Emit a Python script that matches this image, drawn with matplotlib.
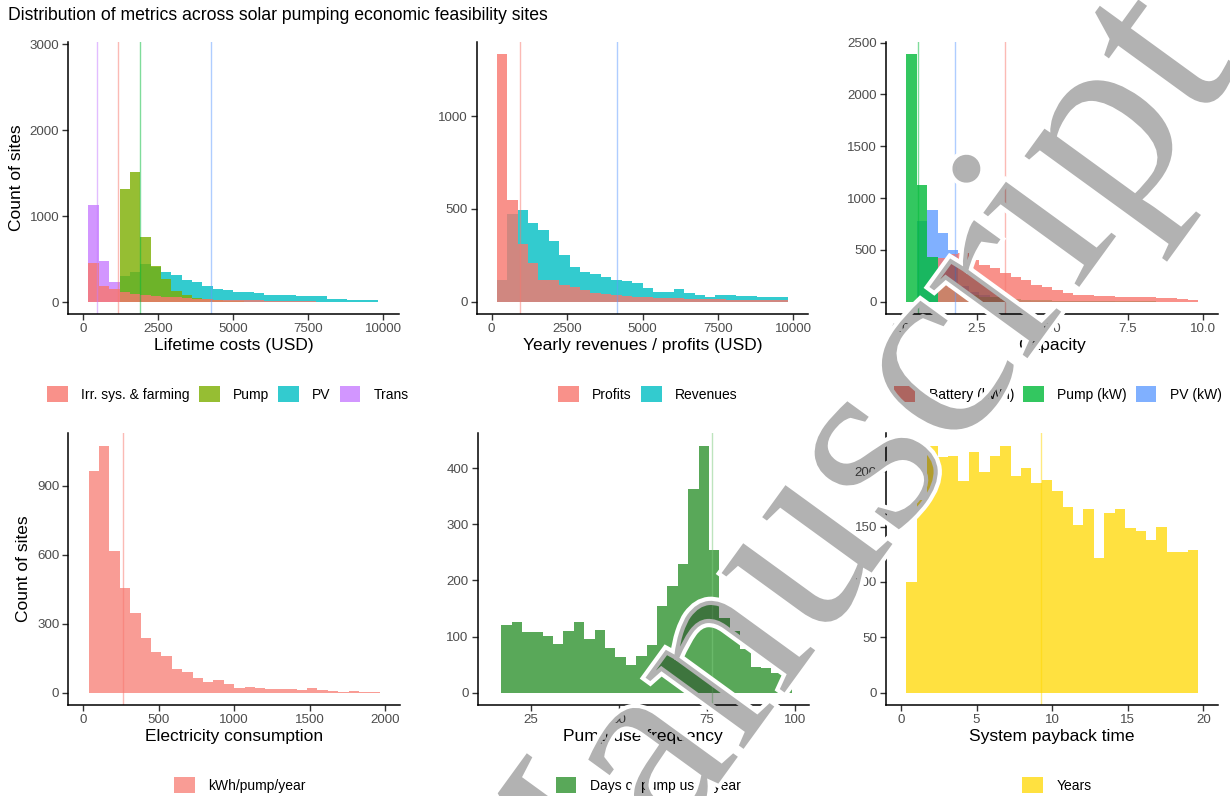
import numpy as np
import matplotlib
matplotlib.use("Agg")
import matplotlib.pyplot as plt
from matplotlib.patches import Patch
import matplotlib.patheffects as pe

plt.rcParams['font.family'] = ['Liberation Sans', 'DejaVu Sans']

# ---------------- data (counts per histogram bin) ----------------
usd_edges = np.linspace(172.4, 9827.6, 29)          # 28 bins, USD
cost_trans = [1128, 475, 240, 130, 60, 30, 15, 8, 5, 3, 2, 1, 1, 0, 0, 0, 0, 0, 0, 0, 0, 0, 0, 0, 0, 0, 0, 0]
cost_pv = [0, 0, 0, 300, 350, 440, 410, 350, 311, 253, 233, 187, 156, 144, 117, 115, 110, 78, 78, 78, 77, 76, 75, 40, 39, 31, 31, 31]
cost_pump = [0, 0, 0, 1311, 1510, 759, 420, 272, 130, 80, 50, 35, 20, 15, 10, 8, 6, 5, 4, 3, 2, 2, 1, 1, 1, 0, 0, 0]
cost_irr = [455, 190, 150, 120, 95, 80, 70, 60, 55, 45, 40, 35, 30, 30, 25, 30, 20, 18, 15, 12, 10, 9, 8, 7, 6, 5, 4, 3]
cost_means = {'Trans': 447, 'Irr': 1167, 'Pump': 1890, 'PV': 4246}

rev_revenues = [114, 475, 493, 426, 384, 327, 253, 186, 162, 150, 132, 114, 110, 102, 76, 54, 54, 67, 45, 36, 24, 36, 36, 31, 31, 27, 27, 27]
rev_profits = [1337, 547, 312, 208, 117, 117, 87, 78, 63, 45, 41, 36, 32, 27, 25, 22, 20, 18, 15, 15, 12, 12, 10, 10, 10, 8, 8, 8]
rev_means = {'Profits': 933, 'Revenues': 4141}

cap_edges = np.linspace(0.1724, 9.8276, 29)
cap_pv = [0, 782, 885, 660, 499, 150, 90, 60, 40, 30, 20, 15, 10, 8, 6, 5, 4, 3, 2, 2, 1, 1, 1, 1, 0, 0, 0, 0]
cap_pump = [2390, 1126, 434, 241, 129, 96, 60, 48, 40, 30, 25, 20, 15, 12, 10, 8, 6, 5, 4, 3, 3, 2, 2, 2, 1, 1, 1, 1]
cap_battery = [0, 0, 0, 418, 460, 473, 402, 354, 322, 273, 241, 209, 161, 145, 113, 80, 64, 64, 58, 55, 48, 48, 42, 40, 32, 32, 29, 20]
cap_means = {'Pump': 0.57, 'PV': 1.79, 'Battery': 3.44}

elec_edges = np.linspace(34.48, 1965.5, 29)
elec_counts = [965, 1074, 617, 457, 345, 239, 178, 160, 104, 90, 62, 48, 55, 36, 22, 26, 22, 17, 17, 15, 12, 19, 12, 7, 4, 7, 4, 3]
elec_mean = 261

freq_edges = np.linspace(16.47, 99.3, 29)
freq_counts = [121, 126, 108, 108, 101, 87, 110, 125, 96, 112, 80, 63, 50, 65, 85, 155, 190, 230, 362, 440, 255, 133, 110, 77, 45, 44, 35, 17]
freq_mean = 76.5

pay_edges = np.linspace(0.3448, 19.655, 29)
pay_counts = [100, 174, 223, 213, 214, 191, 217, 199, 214, 223, 196, 203, 189, 192, 182, 168, 151, 166, 122, 162, 166, 149, 146, 138, 150, 127, 127, 129]
pay_mean = 9.23

# ---------------- styling ----------------
RED, OLIVE, CYAN, PURPLE = '#F8766D', '#7CAE00', '#00BFC4', '#C77CFF'
GREEN3, BLUE3 = '#00BA38', '#619CFF'
FOREST, GOLD = '#228B22', '#FFD700'
A = 0.8

W, H = 1230, 796
fig = plt.figure(figsize=(W / 100, H / 100), dpi=100)


def add_ax(l, t, r, b):
    return fig.add_axes([l / W, 1 - b / H, (r - l) / W, (b - t) / H])


def style(ax, xlim, ylim, xticks, yticks, xlabel, ylabel=None, xfmt=None):
    ax.set_xlim(*xlim)
    ax.set_ylim(*ylim)
    ax.set_xticks(xticks)
    if xfmt:
        ax.set_xticklabels([xfmt.format(v) for v in xticks])
    ax.set_yticks(yticks)
    for s in ['top', 'right']:
        ax.spines[s].set_visible(False)
    for s in ['left', 'bottom']:
        ax.spines[s].set_color('black')
        ax.spines[s].set_linewidth(1.1)
    ax.tick_params(axis='both', colors='#333333', labelcolor='#4D4D4D',
                   labelsize=9.6, length=4, width=1.0, pad=2.5)
    ax.set_xlabel(xlabel, fontsize=12.5, labelpad=2, color='black')
    if ylabel:
        ax.set_ylabel(ylabel, fontsize=12.5, labelpad=4, color='black')
    ax.set_facecolor('none')


def hist(ax, edges, counts, color, alpha=A):
    ax.stairs(counts, edges, fill=True, color=color, alpha=alpha, linewidth=0, baseline=0)


def vline(ax, x, color):
    ax.axvline(x, color=color, alpha=0.5, linewidth=1.0)


def legend(x_center, y_center, labels, colors, alpha=A):
    handles = [Patch(facecolor=c, alpha=alpha, edgecolor='none') for c in colors]
    fig.legend(handles, labels, loc='center', bbox_to_anchor=(x_center / W, 1 - y_center / H),
               ncol=len(labels), frameon=False, fontsize=10, handlelength=1.5, handleheight=1.45,
               handletextpad=0.95, columnspacing=0.65, borderaxespad=0, borderpad=0)


# ---- Panel 1: Lifetime costs
ax1 = add_ax(68.3, 41.7, 398.5, 314)
hist(ax1, usd_edges, cost_trans, PURPLE)
hist(ax1, usd_edges, cost_pv, CYAN)
hist(ax1, usd_edges, cost_pump, OLIVE)
hist(ax1, usd_edges, cost_irr, RED)
vline(ax1, cost_means['Trans'], PURPLE)
vline(ax1, cost_means['Irr'], RED)
vline(ax1, cost_means['Pump'], GREEN3)
vline(ax1, cost_means['PV'], BLUE3)
style(ax1, (-500, 10500), (-137, 3027), [0, 2500, 5000, 7500, 10000], [0, 1000, 2000, 3000],
      'Lifetime costs (USD)', 'Count of sites')
legend(228, 394, ['Irr. sys. & farming', 'Pump', 'PV', 'Trans'], [RED, OLIVE, CYAN, PURPLE])

# ---- Panel 2: Yearly revenues / profits
ax2 = add_ax(476.6, 41.7, 808.4, 314)
hist(ax2, usd_edges, rev_revenues, CYAN)
hist(ax2, usd_edges, rev_profits, RED)
vline(ax2, rev_means['Profits'], RED)
vline(ax2, rev_means['Revenues'], BLUE3)
style(ax2, (-500, 10500), (-67, 1403), [0, 2500, 5000, 7500, 10000], [0, 500, 1000],
      'Yearly revenues / profits (USD)')
legend(648, 394, ['Profits', 'Revenues'], [RED, CYAN])

# ---- Panel 3: Capacity
ax3 = add_ax(886, 41.7, 1218.4, 314)
hist(ax3, cap_edges, cap_pv, BLUE3)
hist(ax3, cap_edges, cap_pump, GREEN3)
hist(ax3, cap_edges, cap_battery, RED)
vline(ax3, cap_means['Pump'], GREEN3)
vline(ax3, cap_means['PV'], BLUE3)
vline(ax3, cap_means['Battery'], RED)
style(ax3, (-0.5, 10.5), (-119.5, 2509.5), [0, 2.5, 5, 7.5, 10], [0, 500, 1000, 1500, 2000, 2500],
      'Capacity', xfmt='{:.1f}')
legend(1058, 394, ['Battery (kWh)', 'Pump (kW)', 'PV (kW)'], [RED, GREEN3, BLUE3])

# ---- Panel 4: Electricity consumption
ax4 = add_ax(68.3, 433.3, 400, 705)
hist(ax4, elec_edges, elec_counts, RED, alpha=0.72)
vline(ax4, elec_mean, RED)
style(ax4, (-100, 2100), (-53.7, 1127.7), [0, 500, 1000, 1500, 2000], [0, 300, 600, 900],
      'Electricity consumption', 'Count of sites')
legend(240, 785, ['kWh/pump/year'], [RED], alpha=0.72)

# ---- Panel 5: Pump use frequency
ax5 = add_ax(477.7, 433.3, 809, 705)
hist(ax5, freq_edges, freq_counts, FOREST, alpha=0.75)
vline(ax5, freq_mean, '#7CCB7C')
style(ax5, (9.8, 104.1), (-22, 462), [25, 50, 75, 100], [0, 100, 200, 300, 400],
      'Pump use frequency')
legend(648, 785, ['Days of pump use / year'], [FOREST], alpha=0.75)

# ---- Panel 6: System payback time
ax6 = add_ax(886, 433.3, 1218.4, 705)
hist(ax6, pay_edges, pay_counts, GOLD, alpha=0.75)
vline(ax6, pay_mean, GOLD)
style(ax6, (-1, 21), (-11.15, 234.15), [0, 5, 10, 15, 20], [0, 50, 100, 150, 200],
      'System payback time')
legend(1057, 785, ['Years'], [GOLD], alpha=0.75)

# ---- title
fig.text(8 / W, 1 - 15 / H, 'Distribution of metrics across solar pumping economic feasibility sites',
         ha='left', va='center', fontsize=12.7, color='black')

# ---- watermark (as in the reference, it runs off the figure edges)
fig.text(835 / W, 1 - 515 / H, 'Manuscript', rotation=54, rotation_mode='anchor',
         ha='center', va='center', fontsize=190, family='Liberation Serif',
         color=(0, 0, 0, 0.3), zorder=10,
         path_effects=[pe.PathPatchEffect(edgecolor='white', facecolor='none', linewidth=6),
                       pe.Normal()])

fig.savefig('out.png', dpi=100)
